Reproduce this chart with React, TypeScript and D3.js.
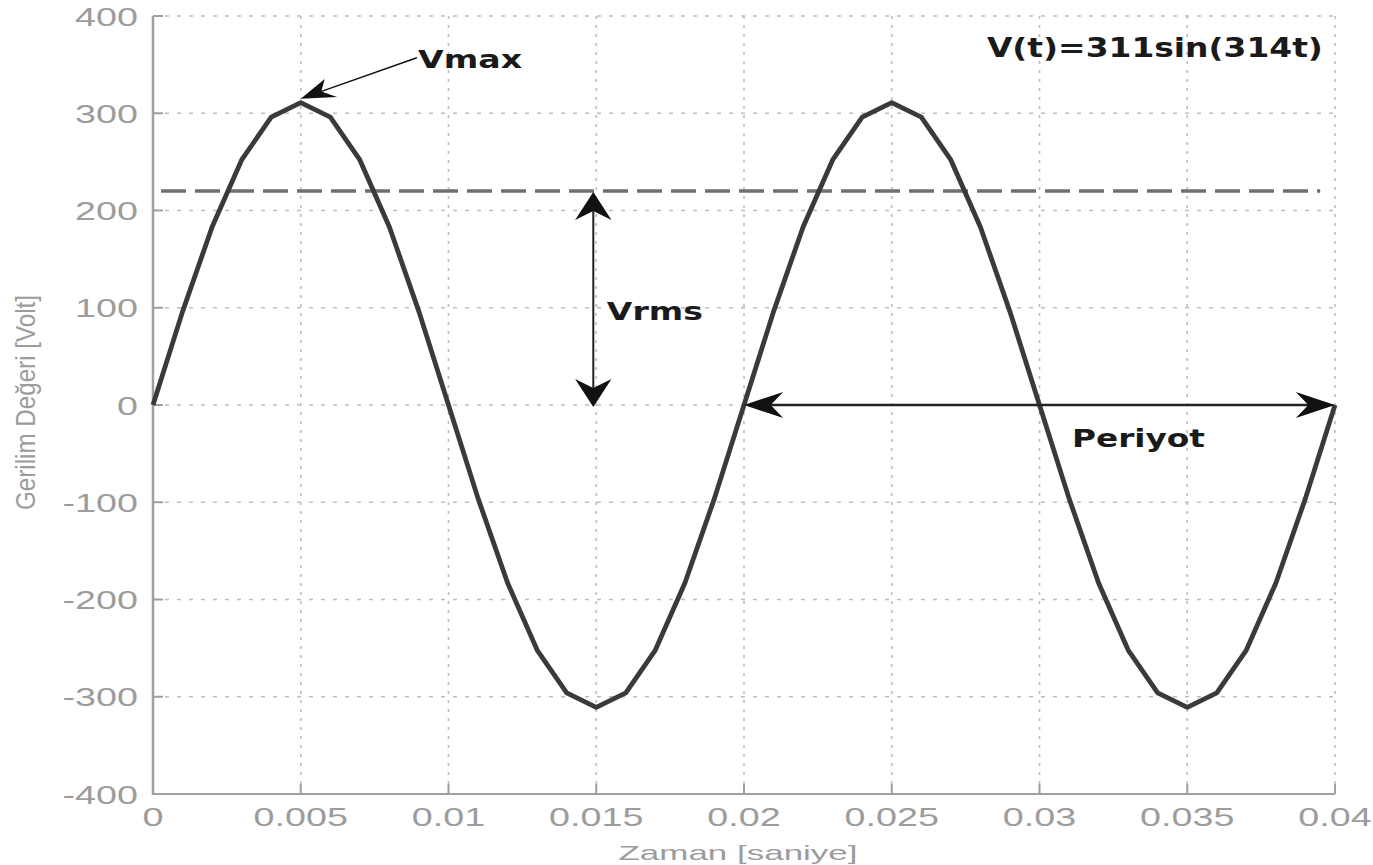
import React from "react";
import * as d3 from "d3";

// ---- data ----
const times: number[] = [
  0, 0.001, 0.002, 0.003, 0.004, 0.005, 0.006, 0.007, 0.008, 0.009,
  0.01, 0.011, 0.012, 0.013, 0.014, 0.015, 0.016, 0.017, 0.018, 0.019,
  0.02, 0.021, 0.022, 0.023, 0.024, 0.025, 0.026, 0.027, 0.028, 0.029,
  0.03, 0.031, 0.032, 0.033, 0.034, 0.035, 0.036, 0.037, 0.038, 0.039, 0.04,
];
const voltages: number[] = [
  0, 96, 183, 252, 296, 311, 296, 252, 183, 96,
  0, -96, -183, -252, -296, -311, -296, -252, -183, -96,
  0, 96, 183, 252, 296, 311, 296, 252, 183, 96,
  0, -96, -183, -252, -296, -311, -296, -252, -183, -96, 0,
];
const xTicks: number[] = [0, 0.005, 0.01, 0.015, 0.02, 0.025, 0.03, 0.035, 0.04];
const xTickLabels: string[] = ["0", "0.005", "0.01", "0.015", "0.02", "0.025", "0.03", "0.035", "0.04"];
const yTicks: number[] = [-400, -300, -200, -100, 0, 100, 200, 300, 400];
const yTickLabels: string[] = ["-400", "-300", "-200", "-100", "0", "100", "200", "300", "400"];
const vrmsValue = 220;
const vmaxPoint = { t: 0.005, v: 315 };
const periodRange: [number, number] = [0.02, 0.04];
const vrmsArrowT = 0.0149;

const xTitle = "Zaman [saniye]";
const yTitle = "Gerilim Değeri [Volt]";
const formulaText = "V(t)=311sin(314t)";

// ---- layout ----
const W = 1373;
const H = 865;
const SX = 1.4; // horizontal stretch of the original picture

const x = d3.scaleLinear().domain([0, 0.04]).range([153, 1335]);
const y = d3.scaleLinear().domain([-400, 400]).range([794, 16]);

function arrowHead(tx: number, ty: number, dx: number, dy: number, L = 28, Wd = 13) {
  const ux0 = dx / SX;
  const uy0 = dy;
  const n = Math.hypot(ux0, uy0);
  const ux = ux0 / n;
  const uy = uy0 / n;
  const px = -uy;
  const py = ux;
  const pts = [
    [0, 0],
    [-L * ux + Wd * px, -L * uy + Wd * py],
    [-0.68 * L * ux, -0.68 * L * uy],
    [-L * ux - Wd * px, -L * uy - Wd * py],
  ].map(([a, b]) => [tx + a * SX, ty + b]);
  return "M" + pts.map((p) => p[0].toFixed(2) + "," + p[1].toFixed(2)).join("L") + "Z";
}

export default function App() {
  const line = d3
    .line<number>()
    .x((_, i) => x(times[i]))
    .y((d) => y(d));
  const path = line(voltages) || "";

  const gridColor = "#bdbdbd";
  const axisColor = "#a0a0a0";
  const labelColor = "#9c9c9c";

  const vmaxTextX = x(0.00897);
  const vmaxTextY = y(346.5);
  const vmaxLineStart = [x(0.00893), y(357)];
  const vmaxTip = [x(vmaxPoint.t), y(vmaxPoint.v)];

  const vrX = x(vrmsArrowT);
  const vrTop = y(vrmsValue) + 1;
  const vrBot = y(0) + 2;

  const pL = x(periodRange[0]);
  const pR = x(periodRange[1]);
  const pY = y(0);

  return (
    <svg
      width={W}
      height={H}
      style={{ position: "absolute", left: 0, top: 0, background: "#ffffff" }}
    >
      <rect x={0} y={0} width={W} height={H} fill="#ffffff" />
      {/* grid */}
      <g>
        {xTicks.map((t, i) => (
          <line
            key={"gx" + i}
            x1={x(t)}
            x2={x(t)}
            y1={y(400)}
            y2={y(-400)}
            stroke={gridColor}
            strokeWidth={1.6}
            strokeDasharray="3,6"
          />
        ))}
        {yTicks.map((v, i) => (
          <line
            key={"gy" + i}
            x1={x(0)}
            x2={x(0.04)}
            y1={y(v)}
            y2={y(v)}
            stroke={gridColor}
            strokeWidth={1.6}
            strokeDasharray="4,8"
          />
        ))}
      </g>

      {/* axes */}
      <line x1={x(0)} x2={x(0)} y1={y(400)} y2={y(-400) + 1} stroke={axisColor} strokeWidth={2.5} />
      <line x1={x(0)} x2={x(0.04)} y1={y(-400)} y2={y(-400)} stroke={axisColor} strokeWidth={2} />
      {yTicks.map((v, i) => (
        <line key={"ty" + i} x1={x(0)} x2={x(0) + 10} y1={y(v)} y2={y(v)} stroke={axisColor} strokeWidth={2} />
      ))}
      {xTicks.map((t, i) => (
        <line key={"tx" + i} x1={x(t)} x2={x(t)} y1={y(-400)} y2={y(-400) - 10} stroke={axisColor} strokeWidth={2} />
      ))}

      {/* tick labels */}
      {yTicks.map((v, i) => (
        <text
          key={"ly" + i}
          transform={`translate(${x(0) - 15},${y(v) + 9.5}) scale(${SX + 0.05},1)`}
          textAnchor="end"
          fontFamily="'Liberation Sans', Arial, sans-serif"
          fontSize={26}
          fill={labelColor}
        >
          {yTickLabels[i]}
        </text>
      ))}
      {xTicks.map((t, i) => (
        <text
          key={"lx" + i}
          transform={`translate(${x(t)},${826}) scale(${SX + 0.05},1)`}
          textAnchor="middle"
          fontFamily="'Liberation Sans', Arial, sans-serif"
          fontSize={26}
          fill={labelColor}
        >
          {xTickLabels[i]}
        </text>
      ))}

      {/* axis titles */}
      <text
        x={738}
        y={860}
        textAnchor="middle"
        fontFamily="'Liberation Sans', Arial, sans-serif"
        fontSize={21}
        fill={labelColor}
        textLength={239}
        lengthAdjust="spacingAndGlyphs"
      >
        {xTitle}
      </text>
      <g transform="translate(35,402.5) rotate(-90)">
        <g transform="scale(1,1.45)">
          <text
            x={0}
            y={0}
            textAnchor="middle"
            fontFamily="'Liberation Sans', Arial, sans-serif"
            fontSize={19}
            fill={labelColor}
            textLength={215}
            lengthAdjust="spacingAndGlyphs"
          >
            {yTitle}
          </text>
        </g>
      </g>

      {/* Vrms dashed line */}
      <line
        x1={x(0) + 8}
        x2={x(0.0395)}
        y1={y(vrmsValue)}
        y2={y(vrmsValue)}
        stroke="#707070"
        strokeWidth={3.5}
        strokeDasharray="25,9"
      />

      {/* signal */}
      <path d={path} fill="none" stroke="#3a3a3a" strokeWidth={4.8} strokeLinejoin="round" />

      {/* Vmax annotation */}
      <line
        x1={vmaxLineStart[0]}
        y1={vmaxLineStart[1]}
        x2={vmaxTip[0] + 20}
        y2={vmaxTip[1] - 7}
        stroke="#111"
        strokeWidth={1.5}
      />
      <path
        d={arrowHead(vmaxTip[0], vmaxTip[1], vmaxTip[0] - vmaxLineStart[0], vmaxTip[1] - vmaxLineStart[1], 24, 10)}
        fill="#111"
      />
      <text
        x={vmaxTextX}
        y={vmaxTextY}
        fontFamily="'DejaVu Sans', Verdana, sans-serif"
        fontWeight="bold"
        fontSize={24}
        fill="#1a1a1a"
        textLength={104}
        lengthAdjust="spacingAndGlyphs"
      >
        Vmax
      </text>

      {/* Vrms arrow */}
      <line x1={vrX} x2={vrX} y1={vrTop + 15} y2={vrBot - 15} stroke="#222" strokeWidth={2} />
      <path d={arrowHead(vrX, vrTop, 0, -1)} fill="#111" />
      <path d={arrowHead(vrX, vrBot, 0, 1)} fill="#111" />
      <text
        x={x(0.01536)}
        y={y(87.4)}
        fontFamily="'DejaVu Sans', Verdana, sans-serif"
        fontWeight="bold"
        fontSize={24}
        fill="#1a1a1a"
        textLength={96}
        lengthAdjust="spacingAndGlyphs"
      >
        Vrms
      </text>

      {/* Period arrow */}
      <line x1={pL + 20} x2={pR - 20} y1={pY} y2={pY} stroke="#222" strokeWidth={2.5} />
      <path d={arrowHead(pL, pY, -1, 0)} fill="#111" />
      <path d={arrowHead(pR, pY, 1, 0)} fill="#111" />
      <text
        x={x(0.0311)}
        y={y(-43)}
        fontFamily="'DejaVu Sans', Verdana, sans-serif"
        fontWeight="bold"
        fontSize={25}
        fill="#1a1a1a"
        textLength={133}
        lengthAdjust="spacingAndGlyphs"
      >
        Periyot
      </text>

      {/* formula */}
      <text
        x={x(0.02822)}
        y={y(357.8)}
        fontFamily="'DejaVu Sans', Verdana, sans-serif"
        fontWeight="bold"
        fontSize={26}
        fill="#1a1a1a"
        textLength={336}
        lengthAdjust="spacingAndGlyphs"
      >
        {formulaText}
      </text>
    </svg>
  );
}
